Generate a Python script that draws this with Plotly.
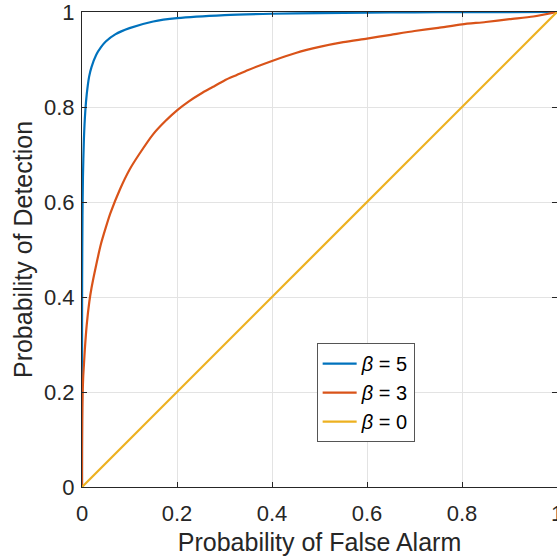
import plotly.graph_objects as go

# ---- data (smoothed readings) ----
pf_b5 = [0, 1e-5, 1e-4, 3e-4, 0.001, 0.002, 0.004, 0.007, 0.01, 0.015, 0.02, 0.03,
         0.04, 0.05, 0.07, 0.1, 0.15, 0.2, 0.3, 0.4, 0.5, 0.6, 0.7, 0.8, 0.9, 1.0]
pd_b5 = [0, 0.160, 0.327, 0.436, 0.571, 0.652, 0.732, 0.792, 0.827, 0.864, 0.884, 0.910,
         0.926, 0.938, 0.953, 0.966, 0.980, 0.987, 0.9934, 0.9963, 0.9978, 0.99865, 0.9993,
         0.9997, 0.99993, 1.0]

pf_b3 = [0, 1e-5, 1e-4, 5e-4, 0.0014, 0.0025, 0.0042, 0.006, 0.01, 0.0154, 0.02, 0.03,
         0.04, 0.05, 0.06, 0.08, 0.1, 0.12, 0.15, 0.175, 0.2, 0.225, 0.25, 0.275, 0.3,
         0.325, 0.35, 0.4, 0.45, 0.5, 0.55, 0.6, 0.65, 0.7, 0.75, 0.8, 0.85, 0.9, 0.95, 1.0]
pd_b3 = [0, 0.031, 0.078, 0.138, 0.198, 0.231, 0.26, 0.29, 0.342, 0.39, 0.419, 0.468,
         0.512, 0.546, 0.577, 0.627, 0.668, 0.700, 0.743, 0.770, 0.793, 0.812, 0.828, 0.842,
         0.856, 0.867, 0.878, 0.897, 0.9137, 0.9265, 0.9365, 0.944, 0.952, 0.960, 0.9667,
         0.974, 0.979, 0.985, 0.9905, 1.0]

pf_b0 = [0, 1]
pd_b0 = [0, 1]

labels = ["<i>β</i> = 5", "<i>β</i> = 3", "<i>β</i> = 0"]
colors = ["#0072BD", "#D95319", "#EDB120"]

x_ticks = [0, 0.2, 0.4, 0.6, 0.8, 1]
y_ticks = [0, 0.2, 0.4, 0.6, 0.8, 1]
tick_text = ["0", "0.2", "0.4", "0.6", "0.8", "1"]

fig = go.Figure()
for xs, ys, name, c in zip([pf_b5, pf_b3, pf_b0], [pd_b5, pd_b3, pd_b0], labels, colors):
    fig.add_trace(go.Scatter(x=xs, y=ys, mode="lines", name=name,
                             line=dict(color=c, width=2.2, shape="spline", smoothing=0.7)))

font_family = "Liberation Sans, Arial, sans-serif"
axis_common = dict(
    range=[0, 1], showgrid=True, gridcolor="#e3e3e3", gridwidth=1,
    zeroline=False, showline=True, linecolor="#262626", linewidth=1,
    mirror="ticks", ticks="inside", ticklen=5, tickcolor="#262626",
    automargin=False, ticklabeloverflow="allow",
    tickfont=dict(family=font_family, size=22, color="#262626"),
)

fig.update_xaxes(**axis_common, tickvals=x_ticks, ticktext=tick_text, ticklabelstandoff=7,
                 title=dict(text="Probability of False Alarm", standoff=11,
                            font=dict(family=font_family, size=25, color="#262626")))
fig.update_yaxes(**axis_common, tickvals=y_ticks, ticktext=tick_text, ticklabelstandoff=2,
                 title=dict(text="Probability of Detection", standoff=4,
                            font=dict(family=font_family, size=25, color="#262626")))

fig.update_layout(
    width=557, height=556,
    margin=dict(l=82, r=0, t=12, b=69),
    plot_bgcolor="white", paper_bgcolor="white",
    showlegend=True,
    legend=dict(x=0.494, y=0.303, xanchor="left", yanchor="top",
                bgcolor="white", bordercolor="#555555", borderwidth=1,
                font=dict(family=font_family, size=20, color="#000000"),
                itemwidth=34, tracegroupgap=0),
)

fig.write_html("out.html", config={"displayModeBar": False},
               post_script="document.body.style.margin='0px';")
